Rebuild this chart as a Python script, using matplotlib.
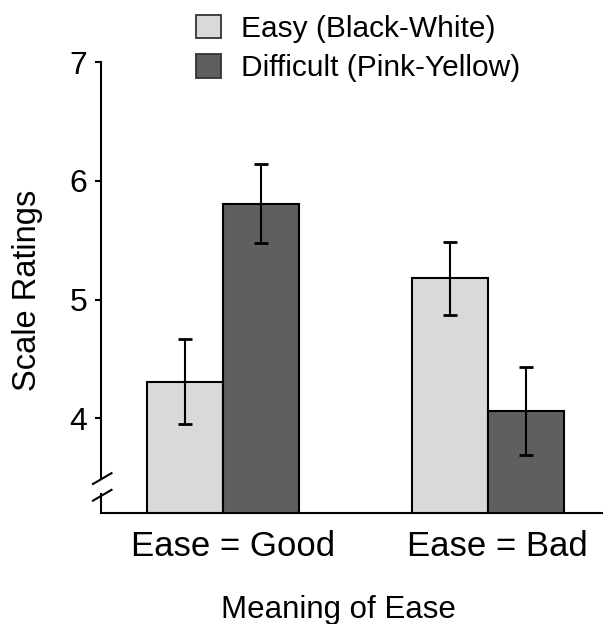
import matplotlib.pyplot as plt
from matplotlib.patches import Patch
import numpy as np

plt.rcParams['font.family'] = ['Liberation Sans', 'DejaVu Sans']

groups = ["Ease = Good", "Ease = Bad"]
series = ["Easy (Black-White)", "Difficult (Pink-Yellow)"]
easy = [4.31, 5.18]
easy_err = [0.36, 0.31]
difficult = [5.81, 4.06]
difficult_err = [0.33, 0.37]
yticks = [4, 5, 6, 7]

light = "#d9d9d9"
dark = "#5f5f5f"

fig = plt.figure(figsize=(6.03, 6.24), dpi=100)
ax = fig.add_axes([101 / 603, 1 - 513.3 / 624, 502 / 603, 451 / 624])

x = np.arange(len(groups))
w = 0.287
ax.bar(x - w / 2, easy, w, color=light, edgecolor="black", linewidth=1.5, zorder=2)
ax.bar(x + w / 2, difficult, w, color=dark, edgecolor="black", linewidth=1.5, zorder=2)
ax.errorbar(x - w / 2, easy, yerr=easy_err, fmt="none", ecolor="black", elinewidth=1.5,
            capsize=5, capthick=2, zorder=3)
ax.errorbar(x + w / 2, difficult, yerr=difficult_err, fmt="none", ecolor="black", elinewidth=1.5,
            capsize=5, capthick=2, zorder=3)

ax.set_xlim(-0.462, 1.434)
ax.set_ylim(3.2, 7)
ax.set_yticks(yticks)
ax.set_yticklabels([str(t) for t in yticks], fontsize=23)
ax.set_xticks(x + 0.035)
ax.set_xticklabels(groups, fontsize=25)
ax.tick_params(axis="x", length=0, pad=12)
ax.tick_params(axis="y", direction="out", length=4, width=1.5, pad=6)

for s in ["top", "right"]:
    ax.spines[s].set_visible(False)
ax.spines["bottom"].set_linewidth(1.5)
ax.spines["left"].set_linewidth(1.5)
ax.spines["left"].set_bounds(3.2 + 0.077 * 3.8, 7)

# axis break on the y axis
tr = ax.transAxes
ax.plot([0, 0], [0, 0.043], color="black", lw=1.5, transform=tr, clip_on=False)
ax.plot([-0.016, 0.021], [0.065, 0.089], color="black", lw=1.5, transform=tr, clip_on=False)
ax.plot([-0.016, 0.021], [0.028, 0.052], color="black", lw=1.5, transform=tr, clip_on=False)

fig.text(28 / 603, 1 - 290 / 624, "Scale Ratings", rotation=90, ha="center", va="center", fontsize=23.5)
fig.text(338 / 603, 1 - 618 / 624, "Meaning of Ease", ha="center", va="baseline", fontsize=22.5)

handles = [Patch(facecolor=light, edgecolor="#333333", linewidth=1.3),
           Patch(facecolor=dark, edgecolor="#333333", linewidth=1.3)]
fig.legend(handles, series, loc="upper left", bbox_to_anchor=(196 / 603, 1 - 15 / 624),
           frameon=False, fontsize=21.5, handlelength=0.83, handleheight=0.83,
           handletextpad=0.67, labelspacing=0.37, borderpad=0, borderaxespad=0)

fig.savefig("out.png", dpi=100)
